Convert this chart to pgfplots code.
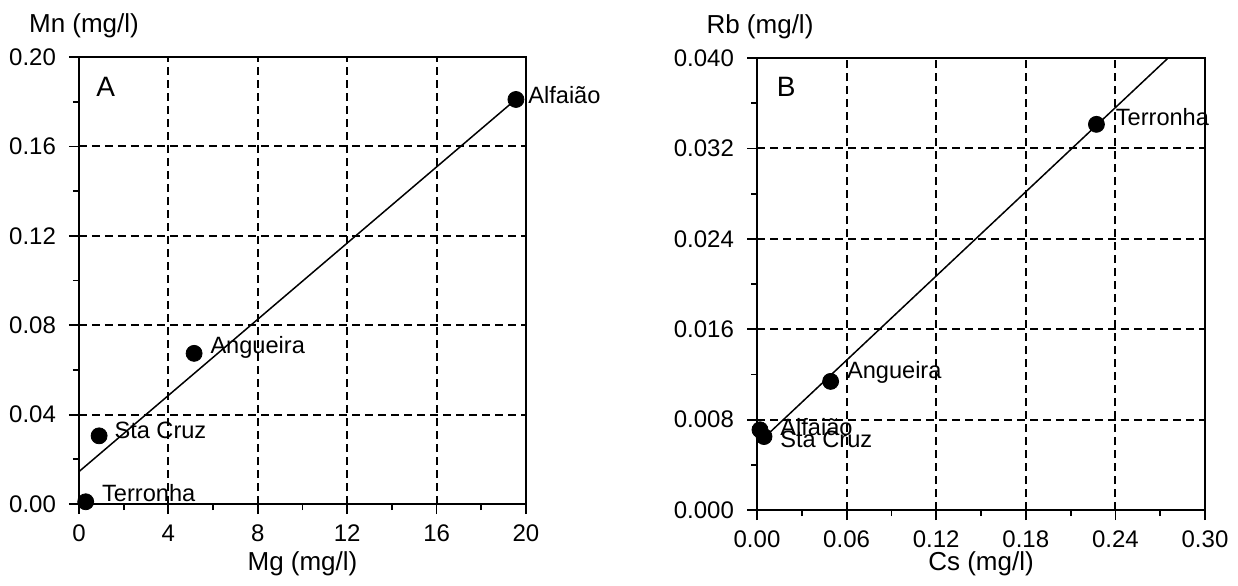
\documentclass[border=0pt]{standalone}
\usepackage{fontspec}
\setmainfont{Liberation Sans}
\usepackage{pgfplots}
\pgfplotsset{compat=1.18}
\tikzset{lab/.style={anchor=west, font=\fontsize{11.8}{13}\selectfont, inner sep=0pt}}
\begin{document}
\begin{tikzpicture}
\useasboundingbox (0,0) rectangle (619pt,292.5pt);
\pgfplotsset{
 mystyle/.style={
  scale only axis, clip=false,
  tick align=outside, xtick pos=bottom, ytick pos=left,
  major tick length=5pt, minor tick length=3pt,
  minor tick num=1,
  grid=major,
  major grid style={black, line width=1pt, dash pattern=on 4pt off 2.5pt},
  axis line style={line width=1.1pt},
  every tick/.style={black, line width=0.9pt},
  tick label style={font=\fontsize{12}{14}\selectfont},
  xticklabel style={yshift=-2pt},
  yticklabel style={xshift=-3pt},
  /pgf/number format/assume math mode=true,
  scaled ticks=false,
  every axis x label/.style={at={(axis description cs:0.5,0)}, anchor=base, font=\fontsize{13}{15}\selectfont},
  every axis y label/.style={at={(axis description cs:0,1)}, anchor=base, font=\fontsize{13}{15}\selectfont},
 },
 regline/.style={black, line width=0.75pt, no marks},
 pts/.style={only marks, mark=*, mark size=4pt, black},
}
% Panel A
\begin{axis}[mystyle, at={(39.5pt,40.5pt)}, anchor=south west,
  width=223.5pt, height=223.5pt,
  xmin=0, xmax=20, ymin=0, ymax=0.2,
  xtick={0,4,8,12,16,20}, ytick={0,0.04,0.08,0.12,0.16,0.2},
  yticklabel style={/pgf/number format/.cd, fixed, fixed zerofill, precision=2},
  xlabel={Mg (mg/l)}, xlabel style={yshift=-33pt},
  ylabel={Mn (mg/l)}, ylabel style={yshift=12.5pt, xshift=2.5pt},
]
\addplot[regline] coordinates {(0,0.0145) (19.6,0.1815)};
\addplot[pts] coordinates {(0.3,0.001) (0.9,0.0305) (5.15,0.0674) (19.55,0.181)};
\node[lab] at (axis cs:0.3,0.001) [xshift=8pt, yshift=4.5pt] {Terronha};
\node[lab] at (axis cs:0.9,0.0305) [xshift=7.5pt, yshift=2.5pt] {Sta Cruz};
\node[lab] at (axis cs:5.15,0.0674) [xshift=8pt, yshift=3pt] {Angueira};
\node[lab] at (axis cs:19.55,0.181) [xshift=6pt, yshift=2pt] {Alfaião};
\node[font=\fontsize{14}{16}\selectfont] at (rel axis cs:0.06,0.933) {A};
\end{axis}
% Panel B
\begin{axis}[mystyle, at={(378.5pt,37.5pt)}, anchor=south west,
  width=224pt, height=226pt,
  xmin=0, xmax=0.3, ymin=0, ymax=0.04,
  xtick={0,0.06,0.12,0.18,0.24,0.3}, ytick={0,0.008,0.016,0.024,0.032,0.04},
  xticklabel style={/pgf/number format/.cd, fixed, fixed zerofill, precision=2},
  yticklabel style={/pgf/number format/.cd, fixed, fixed zerofill, precision=3},
  xlabel={Cs (mg/l)}, xlabel style={yshift=-30pt},
  ylabel={Rb (mg/l)}, ylabel style={yshift=12.5pt, xshift=1.5pt},
]
\addplot[regline] coordinates {(0.004,0.0063) (0.2753,0.0400)};
\addplot[pts] coordinates {(0.002,0.0071) (0.0047,0.0065) (0.0493,0.01138) (0.2273,0.03413)};
\node[lab] at (axis cs:0.002,0.0071) [xshift=10pt, yshift=1.5pt] {Alfaião};
\node[lab] at (axis cs:0.0047,0.0065) [xshift=8pt, yshift=-1.5pt] {Sta Cruz};
\node[lab] at (axis cs:0.0493,0.01138) [xshift=8pt, yshift=4.5pt] {Angueira};
\node[lab] at (axis cs:0.2273,0.03413) [xshift=9.5pt, yshift=3.5pt] {Terronha};
\node[font=\fontsize{14}{16}\selectfont] at (rel axis cs:0.065,0.936) {B};
\end{axis}
\end{tikzpicture}
\end{document}
